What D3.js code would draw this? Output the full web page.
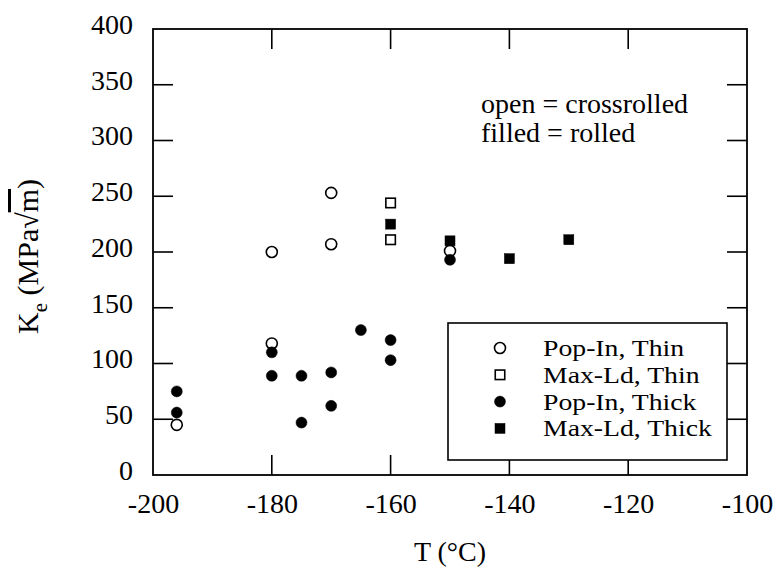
<!DOCTYPE html>
<html>
<head>
<meta charset="utf-8">
<script src="https://cdn.jsdelivr.net/npm/d3@7"></script>
<style>
  html, body { margin: 0; padding: 0; background: #fff; }
  svg text { font-family: "Liberation Serif", "Times New Roman", serif; fill: #000; }
</style>
</head>
<body>
<svg id="chart" width="774" height="570"></svg>
<script>
// Fracture toughness K_e versus test temperature
const popInThinT  = [-196, -180, -180, -170, -170, -150];
const popInThinK  = [45, 200, 118, 253, 207, 201];
const maxLdThinT  = [-160, -160];
const maxLdThinK  = [244, 211];
const popInThickT = [-196, -196, -180, -180, -175, -175, -170, -170, -165, -160, -160, -150];
const popInThickK = [75, 56, 110, 89, 89, 47, 92, 62, 130, 121, 103, 193];
const maxLdThickT = [-160, -150, -140, -130];
const maxLdThickK = [225, 210, 194, 211];

const xTicks = [-200, -180, -160, -140, -120, -100];
const yTicks = [0, 50, 100, 150, 200, 250, 300, 350, 400];
const legendLabels = ["Pop-In, Thin", "Max-Ld, Thin", "Pop-In, Thick", "Max-Ld, Thick"];
const noteLines = ["open = crossrolled", "filled = rolled"];

const svg = d3.select("#chart");
const pLeft = 153, pRight = 747, pTop = 29, pBottom = 475;
const fs = 28;

const x = d3.scaleLinear().domain([-200, -100]).range([pLeft, pRight]);
const y = d3.scaleLinear().domain([0, 400]).range([pBottom, pTop]);

const tickLen = 20;
const innerY = [50, 100, 150, 200, 250, 300, 350];
const innerX = [-180, -160, -140, -120];

// axes: bottom/left carry labels, top/right are mirrored inward ticks
const axB = d3.axisBottom(x).tickValues(xTicks).tickSize(0).tickPadding(0);
const axL = d3.axisLeft(y).tickValues(yTicks).tickSize(0).tickPadding(0);

const gB = svg.append("g").attr("transform", `translate(0,${pBottom})`).call(axB);
gB.select(".domain").remove();
gB.selectAll("text").attr("font-size", fs).attr("font-family", "Liberation Serif")
  .attr("dy", null).attr("y", 38).text(d => d < 0 ? "-" + Math.abs(d) : d);

const gL = svg.append("g").attr("transform", `translate(${pLeft},0)`).call(axL);
gL.select(".domain").remove();
gL.selectAll("text").attr("font-size", fs).attr("font-family", "Liberation Serif")
  .attr("x", -20).attr("dy", "0.16em");

// inward tick marks on all four sides
const ticks = svg.append("g").attr("stroke", "#000").attr("stroke-width", 1.6);
innerY.forEach(v => {
  ticks.append("line").attr("x1", pLeft).attr("x2", pLeft + tickLen).attr("y1", y(v)).attr("y2", y(v));
  ticks.append("line").attr("x1", pRight).attr("x2", pRight - tickLen).attr("y1", y(v)).attr("y2", y(v));
});
innerX.forEach(v => {
  ticks.append("line").attr("x1", x(v)).attr("x2", x(v)).attr("y1", pBottom).attr("y2", pBottom - tickLen);
  ticks.append("line").attr("x1", x(v)).attr("x2", x(v)).attr("y1", pTop).attr("y2", pTop + tickLen);
});

// frame
svg.append("rect").attr("x", pLeft).attr("y", pTop).attr("width", pRight - pLeft).attr("height", pBottom - pTop)
  .attr("fill", "none").attr("stroke", "#000").attr("stroke-width", 1.8);

// axis titles
svg.append("text").attr("x", x(-150)).attr("y", 561).attr("text-anchor", "middle").attr("font-size", fs)
  .text("T (°C)");

const yt = svg.append("text").attr("transform", `translate(38,${y(196)}) rotate(-90)`)
  .attr("text-anchor", "middle").attr("font-size", 30);
yt.append("tspan").text("K");
yt.append("tspan").attr("dy", 9).attr("font-size", 21).text("e");
yt.append("tspan").attr("dy", -9).text(" (MPa√");
yt.append("tspan").attr("text-decoration", "overline").text("m");
yt.append("tspan").text(")");

// annotation
const note = svg.append("g");
noteLines.forEach((t, i) => {
  note.append("text").attr("x", 481).attr("y", 113 + i * 29).attr("font-size", fs).text(t);
});

// markers
const r = 5.5, sq = 11;
const plot = svg.append("g");
function circles(T, K, filled) {
  plot.selectAll(null).data(T.map((t, i) => [t, K[i]])).join("circle")
    .attr("cx", d => x(d[0])).attr("cy", d => y(d[1])).attr("r", r)
    .attr("fill", filled ? "#000" : "#fff").attr("stroke", "#000").attr("stroke-width", filled ? 0.5 : 1.6);
}
function squares(T, K, filled) {
  const s = filled ? sq - 1 : sq - 1.5;
  plot.selectAll(null).data(T.map((t, i) => [t, K[i]])).join("rect")
    .attr("x", d => x(d[0]) - s / 2).attr("y", d => y(d[1]) - s / 2).attr("width", s).attr("height", s)
    .attr("fill", filled ? "#000" : "#fff").attr("stroke", "#000").attr("stroke-width", filled ? 0.5 : 1.6);
}
circles(popInThinT, popInThinK, false);
squares(maxLdThinT, maxLdThinK, false);
circles(popInThickT, popInThickK, true);
squares(maxLdThickT, maxLdThickK, true);

// legend: compact serif entries, widened to fill the box
const lg = svg.append("g");
lg.append("rect").attr("x", 448).attr("y", 323).attr("width", 279).attr("height", 137)
  .attr("fill", "#fff").attr("stroke", "#000").attr("stroke-width", 1.6);
legendLabels.forEach((lab, i) => {
  const cy = 348 + i * 26.8;
  const cx = 500;
  const filled = i >= 2;
  if (i % 2 === 0) {
    lg.append("circle").attr("cx", cx).attr("cy", cy).attr("r", r)
      .attr("fill", filled ? "#000" : "#fff").attr("stroke", "#000").attr("stroke-width", filled ? 0.5 : 1.6);
  } else {
    const s = filled ? sq - 1 : sq - 1.5;
    lg.append("rect").attr("x", cx - s / 2).attr("y", cy - s / 2).attr("width", s).attr("height", s)
      .attr("fill", filled ? "#000" : "#fff").attr("stroke", "#000").attr("stroke-width", filled ? 0.5 : 1.6);
  }
  lg.append("text").attr("transform", `translate(543,${cy + 8}) scale(1.18,1)`)
    .attr("font-size", 23.5).text(lab);
});
</script>
</body>
</html>
